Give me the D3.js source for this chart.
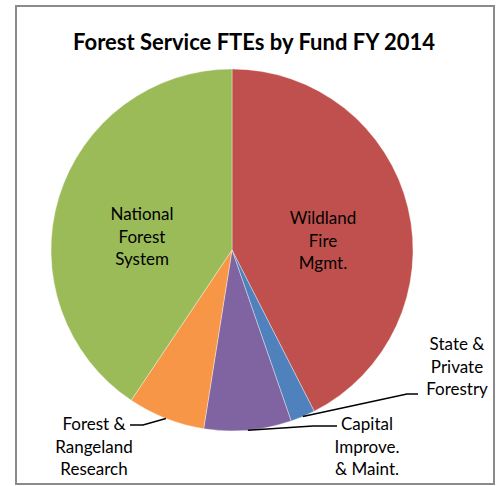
<!DOCTYPE html>
<html><head><meta charset="utf-8">
<script src="https://cdn.jsdelivr.net/npm/d3@7"></script>
<style>html,body{margin:0;padding:0;background:#fff;}</style>
</head><body>
<script>
// Data (share of FTEs, %), clockwise from 12 o'clock
const categories = ["Wildland Fire Mgmt.", "State & Private Forestry", "Capital Improve. & Maint.", "Forest & Rangeland Research", "National Forest System"];
const values = [42.5, 2.2, 7.8, 6.9, 40.6];
const colors = ["#C0504D", "#4F81BD", "#8064A2", "#F79646", "#9BBB59"];
const labelLines = [["Wildland", "Fire", "Mgmt."], ["State &", "Private", "Forestry"], ["Capital", "Improve.", "& Maint."], ["Forest &", "Rangeland", "Research"], ["National", "Forest", "System"]];
const title = "Forest Service FTEs by Fund FY 2014";

const W = 496, H = 486;
const cx = 232, cy = 250, R = 181;
const font = "Lato, 'Open Sans', sans-serif";

// label layout (positions of label text blocks, relative to pie center) and leader elbows
const labelLayout = [
  {x: 91, y: -32, inside: true},
  {x: 225, y: 94, elbow: [175, 144], end: [186, 144]},
  {x: 135, y: 174, elbow: [81, 176], end: [105, 176]},
  {x: -138, y: 174, elbow: [-89, 175], end: [-102, 175]},
  {x: -90, y: -36, inside: true}
];

const svg = d3.select("body").append("svg").attr("width", W).attr("height", H);
svg.append("rect").attr("x", 0).attr("y", 0).attr("width", W).attr("height", H).attr("fill", "#fff");
svg.append("rect").attr("x", 16).attr("y", 6).attr("width", 478).attr("height", 478)
  .attr("fill", "none").attr("stroke", "#8a8a8a").attr("stroke-width", 2);

svg.append("text").attr("x", 254).attr("y", 50).attr("text-anchor", "middle")
  .attr("font-family", font).attr("font-weight", "bold").attr("font-size", 22)
  .attr("fill", "#000").text(title);

const g = svg.append("g").attr("transform", `translate(${cx},${cy})`);
const pie = d3.pie().sort(null).value(d => d);
const arcs = pie(values);
const arc = d3.arc().innerRadius(0).outerRadius(R);

g.selectAll("path.slice").data(arcs).join("path").attr("class", "slice")
  .attr("d", arc).attr("fill", (d, i) => colors[i])
  .attr("stroke", "#fff").attr("stroke-width", 0.6).attr("stroke-opacity", 0.6);

const lineH = 22.5;
arcs.forEach((a, i) => {
  const L = labelLayout[i];
  const t = g.append("text").attr("text-anchor", "middle")
    .attr("font-family", font).attr("font-size", 17).attr("fill", "#000");
  labelLines[i].forEach((s, k) => {
    t.append("tspan").attr("x", L.x).attr("y", L.y + k * lineH + 6).text(s);
  });
  if (!L.inside) {
    const mid = (a.startAngle + a.endAngle) / 2;
    const p0 = [Math.sin(mid) * R, -Math.cos(mid) * R];
    g.append("path").attr("d", d3.line()([p0, L.elbow, L.end]))
      .attr("fill", "none").attr("stroke", "#000").attr("stroke-width", 1.5);
  }
});
</script>
</body></html>
